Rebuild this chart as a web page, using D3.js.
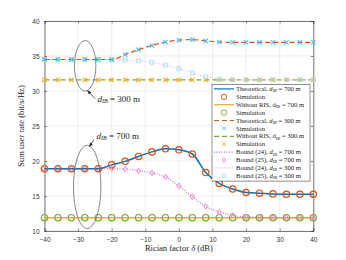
<!DOCTYPE html>
<html>
<head>
<meta charset="utf-8">
<script src="https://cdn.jsdelivr.net/npm/d3@7"></script>
<style>
body{margin:0;background:#fff}
svg{display:block}
</style>
</head>
<body>
<svg id="mySVG" width="346" height="260"></svg>
<script>
//---data---
var delta=[-40,-36,-32,-28,-24,-20,-16,-12,-8,-4,0,4,8,12,16,20,24,28,32,36,40]
var theo700=[18.9,18.9,18.9,18.9,18.9,19.45,19.95,20.65,21.3,21.75,21.6,21.0,18.35,16.8,16.0,15.5,15.4,15.3,15.25,15.25,15.25]
var noRis700=[11.9,11.9,11.9,11.9,11.9,11.9,11.9,11.9,11.9,11.9,11.9,11.9,11.9,11.9,11.9,11.9,11.9,11.9,11.9,11.9,11.9]
var theo300=[34.5,34.5,34.5,34.5,34.5,34.5,35.2,35.9,36.5,37.0,37.25,37.35,37.15,37.0,36.95,36.95,36.95,36.95,36.95,36.95,36.95]
var noRis300=[31.6,31.6,31.6,31.6,31.6,31.6,31.6,31.6,31.6,31.6,31.6,31.6,31.6,31.6,31.6,31.6,31.6,31.6,31.6,31.6,31.6]
var bound700=[18.9,18.9,18.9,18.9,18.9,18.88,18.85,18.6,18.3,17.7,16.45,14.9,13.5,12.7,12.25,12.0,11.95,11.9,11.9,11.9,11.9]
var bound300=[34.5,34.5,34.5,34.5,34.5,34.45,34.4,34.3,34.1,33.7,33.2,32.6,32.05,31.7,31.6,31.6,31.6,31.6,31.6,31.6,31.6]
var xTicks=[-40,-30,-20,-10,0,10,20,30,40]
var yTicks=[10,15,20,25,30,35,40]

//---plot box (window.top is read-only, so own names)---
var pL=44.5,pR=313.3,pT=21,pB=231
var svg=d3.select("#mySVG")

var x=d3.scaleLinear().domain([-40,40]).range([pL,pR])
var y=d3.scaleLinear().domain([10,40]).range([pB,pT])

//---grid---
var grid=svg.append("g")
grid.selectAll(".gx").data(xTicks).enter().append("line")
    .attr("x1",d=>x(d)).attr("x2",d=>x(d)).attr("y1",pT).attr("y2",pB)
    .attr("stroke","#e3e3e3").attr("stroke-width",0.6)
grid.selectAll(".gy").data(yTicks).enter().append("line")
    .attr("x1",pL).attr("x2",pR).attr("y1",d=>y(d)).attr("y2",d=>y(d))
    .attr("stroke","#e3e3e3").attr("stroke-width",0.6)

//---axes---
var tickFont="Liberation Sans, Arial, sans-serif"
var gx=svg.append("g").attr("transform","translate(0,"+pB+")")
    .call(d3.axisBottom(x).tickValues(xTicks).tickSize(-2.5).tickPadding(6))
var gy=svg.append("g").attr("transform","translate("+pL+",0)")
    .call(d3.axisLeft(y).tickValues(yTicks).tickSize(-2.5).tickPadding(5))
var gxTop=svg.append("g").attr("transform","translate(0,"+pT+")")
    .call(d3.axisTop(x).tickValues(xTicks).tickSize(-2.5).tickFormat(""))
var gyR=svg.append("g").attr("transform","translate("+pR+",0)")
    .call(d3.axisRight(y).tickValues(yTicks).tickSize(-2.5).tickFormat(""))
;[gx,gy,gxTop,gyR].forEach(function(g){
    g.select(".domain").attr("stroke","#404040").attr("stroke-width",0.7)
    g.selectAll(".tick line").attr("stroke","#404040").attr("stroke-width",0.6)
    g.selectAll(".tick text").attr("font-family",tickFont).attr("font-size",6.5).attr("fill","#333")
})

//---axis labels---
svg.append("text").attr("x",(pL+pR)/2).attr("y",251)
    .attr("text-anchor","middle").attr("font-family","Liberation Serif, serif")
    .attr("font-size",8.5).attr("fill","#222")
    .html('Rician factor <tspan font-style="italic">δ</tspan> (dB)')
svg.append("text").attr("transform","translate(24,"+((pT+pB)/2)+") rotate(-90)")
    .attr("text-anchor","middle").attr("font-family","Liberation Serif, serif")
    .attr("font-size",8.5).attr("fill","#222")
    .text("Sum user rate (bit/s/Hz)")

//---series---
var pts=function(vals){ return delta.map(function(d,i){ return [d,vals[i]] }) }
var line=d3.line().x(d=>x(d[0])).y(d=>y(d[1])).curve(d3.curveMonotoneX)
var plot=svg.append("g")

function drawLine(vals,color,width,dash)
{
    plot.append("path").attr("d",line(pts(vals))).attr("fill","none")
        .attr("stroke",color).attr("stroke-width",width)
        .attr("stroke-dasharray",dash||null)
}
var sym={
    circle:"M3.2,0A3.2,3.2 0 1,1 -3.2,0A3.2,3.2 0 1,1 3.2,0Z",
    cross:"M-2.2,-2.2L2.2,2.2M-2.2,2.2L2.2,-2.2",
    square:"M-1.9,-1.9H1.9V1.9H-1.9Z",
    diamond:"M0,-2.8L2.2,0L0,2.8L-2.2,0Z"
}
function drawMarks(vals,shape,color,width)
{
    plot.append("g").selectAll("path").data(pts(vals)).enter().append("path")
        .attr("d",sym[shape])
        .attr("transform",d=>"translate("+x(d[0])+","+y(d[1])+")")
        .attr("fill","none").attr("stroke",color).attr("stroke-width",width)
}

drawLine(noRis300,"#77AC30",1.3,"5,3")
drawMarks(noRis300,"cross","#EDB120",1.1)
drawLine(bound300,"#F3B6F3",1.2,"1,1.5")
drawMarks(bound300,"square","#A8E2F7",1.0)
drawLine(theo300,"#D95319",1.2,"5,3")
drawMarks(theo300,"cross","#4DBEEE",1.1)

drawLine(noRis700,"#EDB120",1.5)
drawMarks(noRis700,"circle","#77AC30",1.2)
drawLine(bound700,"#B56CCB",1.1,"1,1.5")
drawMarks(bound700,"diamond","#FF7FD0",1.0)
drawLine(theo700,"#0072BD",1.5)
drawMarks(theo700,"circle","#D95319",1.2)

//---annotations---
var ann=svg.append("g")
svg.append("defs").append("marker").attr("id","arrowHead")
    .attr("viewBox","0 0 10 10").attr("refX",9).attr("refY",5)
    .attr("markerWidth",6).attr("markerHeight",6).attr("orient","auto")
    .append("path").attr("d","M0,1L10,5L0,9Z").attr("fill","#222")
ann.append("ellipse").attr("cx",x(-27.9)).attr("cy",y(33.6)).attr("rx",10.7).attr("ry",25.2)
    .attr("fill","none").attr("stroke","#555").attr("stroke-width",0.7)
ann.append("ellipse").attr("cx",x(-27.3)).attr("cy",y(16.3)).attr("rx",13.7).attr("ry",41.7)
    .attr("fill","none").attr("stroke","#555").attr("stroke-width",0.7)
ann.append("line").attr("x1",95).attr("y1",98.5).attr("x2",87.5).attr("y2",90.5)
    .attr("stroke","#222").attr("stroke-width",0.7).attr("marker-end","url(#arrowHead)")
ann.append("line").attr("x1",94).attr("y1",139.5).attr("x2",89.5).attr("y2",146.5)
    .attr("stroke","#222").attr("stroke-width",0.7).attr("marker-end","url(#arrowHead)")

function annoText(px,py,dist)
{
    var t=ann.append("text").attr("x",px).attr("y",py).attr("font-family","Liberation Serif, serif")
        .attr("font-size",9).attr("fill","#222")
    t.append("tspan").attr("font-style","italic").text("d")
    t.append("tspan").attr("font-style","italic").attr("font-size",6).attr("dy",1.8).text("IB")
    t.append("tspan").attr("dy",-1.8).text(" = "+dist+" m")
}
annoText(97.5,101.5,300)
annoText(96.5,138.5,700)

//---legend---
var legItems=[
    {pre:"Theoretical, ",d:true,it:true,post:" = 700 m",line:"#0072BD",dash:null,mk:null},
    {pre:"Simulation",d:false,mk:"circle",mc:"#D95319"},
    {pre:"Without RIS, ",d:true,it:false,post:" = 700 m",line:"#EDB120",dash:null,mk:null},
    {pre:"Simulation",d:false,mk:"circle",mc:"#77AC30"},
    {pre:"Theoretical, ",d:true,it:true,post:" = 300 m",line:"#D95319",dash:"5,3",mk:null},
    {pre:"Simulation",d:false,mk:"cross",mc:"#4DBEEE"},
    {pre:"Without RIS, ",d:true,it:false,post:" = 300 m",line:"#77AC30",dash:"5,3",mk:null},
    {pre:"Simulation",d:false,mk:"cross",mc:"#EDB120"},
    {pre:"Bound (24), ",d:true,it:true,post:" = 700 m",line:"#B56CCB",dash:"1,1.5",mk:null},
    {pre:"Bound (25), ",d:true,it:true,post:" = 700 m",mk:"diamond",mc:"#FF7FD0"},
    {pre:"Bound (24), ",d:true,it:true,post:" = 300 m",line:"#F3B6F3",dash:"1,1.5",mk:null},
    {pre:"Bound (25), ",d:true,it:true,post:" = 300 m",mk:"square",mc:"#A8E2F7"}
]
var lx=212,ly=84.5,lw=98,rowH=7.9
var leg=svg.append("g")
leg.append("rect").attr("x",lx).attr("y",ly).attr("width",lw).attr("height",legItems.length*rowH+1.8)
    .attr("fill","#fff").attr("stroke","#444").attr("stroke-width",0.6)
legItems.forEach(function(it,i){
    var cy=ly+4.4+i*rowH
    if(it.line)
        leg.append("line").attr("x1",lx+2).attr("x2",lx+22).attr("y1",cy).attr("y2",cy)
            .attr("stroke",it.line).attr("stroke-width",1.2).attr("stroke-dasharray",it.dash)
    if(it.mk)
        leg.append("path").attr("d",sym[it.mk]).attr("transform","translate("+(lx+12)+","+cy+") scale(0.85)")
            .attr("fill","none").attr("stroke",it.mc).attr("stroke-width",1.1)
    var t=leg.append("text").attr("x",lx+24).attr("y",cy+2.1).attr("font-family","Liberation Serif, serif")
        .attr("font-size",6.6).attr("fill","#222")
    t.append("tspan").text(it.pre)
    if(it.d)
    {
        t.append("tspan").attr("font-style",it.it?"italic":null).text("d")
        t.append("tspan").attr("font-style",it.it?"italic":null).attr("font-size",4.5).attr("dy",1.3).text("IB")
        t.append("tspan").attr("dy",-1.3).text(it.post)
    }
})
</script>
</body>
</html>
